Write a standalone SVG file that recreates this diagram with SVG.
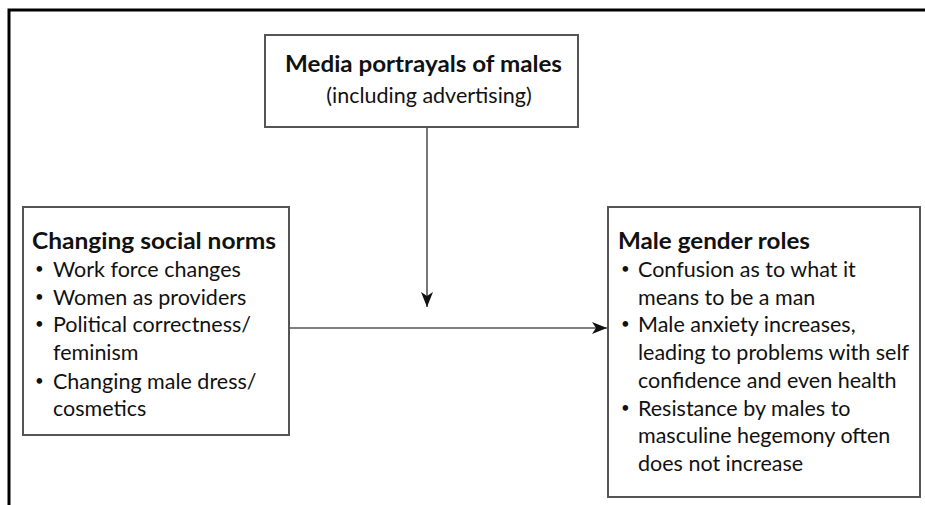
<svg xmlns="http://www.w3.org/2000/svg" width="925" height="505" viewBox="0 0 925 505">
<defs>
<marker id="arr" markerWidth="16" markerHeight="12" viewBox="0 0 16 12" refX="15" refY="6" orient="auto" markerUnits="userSpaceOnUse">
<path d="M0,0 L15,6 L0,12 L4,6 Z" fill="#111"/>
</marker>
<style>
.box{fill:#fff;stroke:#555;stroke-width:2}
.t{font-family:Lato,"Liberation Sans",sans-serif;font-size:21.5px;fill:#111}
.b{font-weight:bold;font-size:23px}
.u{font-family:Lato,"Liberation Sans",sans-serif;font-size:15px;fill:#111}
.conn{stroke:#555;stroke-width:1.6;fill:none}
</style>
</defs>
<rect width="925" height="505" fill="#fff"/>
<path d="M9,505 V10 H925" fill="none" stroke="#000" stroke-width="3"/>
<g id="connectors">
<line class="conn" x1="427" y1="128" x2="427" y2="307" marker-end="url(#arr)"/>
<line class="conn" x1="289" y1="328" x2="607" y2="328" marker-end="url(#arr)"/>
</g>
<g id="media">
<rect class="box" x="265" y="35" width="313" height="92"/>
<text class="t b" x="285" y="72" textLength="277" lengthAdjust="spacingAndGlyphs">Media portrayals of males</text>
<text class="t" x="429" y="103" text-anchor="middle" font-size="20.5">(including advertising)</text>
</g>
<g id="social">
<rect class="box" x="23" y="207" width="266" height="228"/>
<text class="t b" x="32" y="249" textLength="244" lengthAdjust="spacingAndGlyphs">Changing social norms</text>
<text class="u" x="35" y="274">•</text><text class="t" x="53" y="277">Work force changes</text>
<text class="u" x="35" y="302">•</text><text class="t" x="53" y="305">Women as providers</text>
<text class="u" x="35" y="329">•</text><text class="t" x="53" y="332">Political correctness/</text>
<text class="t" x="53" y="360">feminism</text>
<text class="u" x="35" y="386">•</text><text class="t" x="53" y="389">Changing male dress/</text>
<text class="t" x="53" y="416">cosmetics</text>
</g>
<g id="roles">
<rect class="box" x="608" y="207" width="312" height="290"/>
<text class="t b" x="618" y="249" textLength="192" lengthAdjust="spacingAndGlyphs">Male gender roles</text>
<text class="u" x="621" y="274">•</text><text class="t" x="638" y="277">Confusion as to what it</text>
<text class="t" x="638" y="304.5">means to be a man</text>
<text class="u" x="621" y="329">•</text><text class="t" x="638" y="332">Male anxiety increases,</text>
<text class="t" x="638" y="360">leading to problems with self</text>
<text class="t" x="638" y="388">confidence and even health</text>
<text class="u" x="621" y="412.5">•</text><text class="t" x="638" y="415.5">Resistance by males to</text>
<text class="t" x="638" y="443">masculine hegemony often</text>
<text class="t" x="638" y="471">does not increase</text>
</g>
</svg>
